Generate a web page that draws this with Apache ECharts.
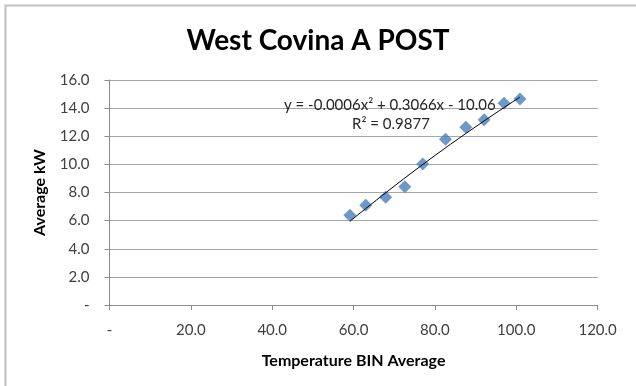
<!DOCTYPE html>
<html>
<head>
<meta charset="utf-8">
<script src="https://cdn.jsdelivr.net/npm/echarts@6/dist/echarts.min.js"></script>
<style>html,body{margin:0;padding:0;background:#fff;}#c{width:636px;height:386px;}</style>
</head>
<body>
<div id="c"></div>
<script>
var tempX = [59.1, 63.0, 67.9, 72.6, 77.0, 82.6, 87.6, 92.1, 97.0, 100.9];
var avgKW = [6.38, 7.09, 7.66, 8.41, 10.03, 11.78, 12.64, 13.18, 14.34, 14.65];
var trendX = [59.1, 80.0, 100.9];
var trendY = [5.95, 10.63, 14.78];
var titleText = 'West Covina A POST';
var xName = 'Temperature BIN Average';
var yName = 'Average kW';
var eqText = 'y = -0.0006x² + 0.3066x - 10.06';
var r2Text = 'R² = 0.9877';

var chart = echarts.init(document.getElementById('c'), null, {renderer: 'canvas'});
var FONT = 'Lato, "Open Sans", sans-serif';
var pts = tempX.map(function (x, i) { return [x, avgKW[i]]; });
var tpts = trendX.map(function (x, i) { return [x, trendY[i]]; });
chart.setOption({
  animation: false,
  backgroundColor: '#fff',
  title: {
    text: titleText, left: 'center', top: 22,
    textStyle: {fontFamily: FONT, fontWeight: 'bold', fontSize: 28, color: '#000'}
  },
  grid: {left: 109.5, right: 38.4, top: 80, bottom: 81},
  xAxis: {
    type: 'value', min: 0, max: 120, interval: 20,
    name: xName, nameLocation: 'middle', nameGap: 48,
    nameTextStyle: {fontFamily: FONT, fontWeight: 'bold', fontSize: 16, color: '#000'},
    axisLine: {show: true, onZero: false, lineStyle: {color: '#8c8c8c', width: 1}},
    axisTick: {show: true, length: 5, lineStyle: {color: '#8c8c8c'}},
    splitLine: {show: false},
    axisLabel: {
      fontFamily: FONT, fontSize: 15, color: '#404040', margin: 18,
      formatter: function (v) { return v === 0 ? '-' : v.toFixed(1); }
    }
  },
  yAxis: {
    type: 'value', min: 0, max: 16, interval: 2,
    name: yName, nameLocation: 'middle', nameGap: 62,
    nameTextStyle: {fontFamily: FONT, fontWeight: 'bold', fontSize: 16, color: '#000'},
    axisLine: {show: true, lineStyle: {color: '#8c8c8c', width: 1}},
    axisTick: {show: true, length: 5, lineStyle: {color: '#8c8c8c'}},
    splitLine: {show: true, lineStyle: {color: '#a6a6a6', width: 1}},
    axisLabel: {
      fontFamily: FONT, fontSize: 15, color: '#404040', margin: 20,
      formatter: function (v) { return v === 0 ? '-' : v.toFixed(1); }
    }
  },
  series: [
    {
      type: 'scatter', data: pts, symbol: 'diamond', symbolSize: 13,
      itemStyle: {color: '#4a7ebb'}, z: 3
    },
    {
      type: 'line', data: tpts, smooth: true, showSymbol: false, symbol: 'none',
      lineStyle: {color: '#000', width: 1}, z: 4
    }
  ],
  graphic: [
    {type: 'rect', shape: {x: 5.5, y: 5.5, width: 700, height: 500},
     style: {fill: 'none', stroke: '#bfbfbf', lineWidth: 2}, silent: true},
    {type: 'text', left: 284, top: 98,
     style: {text: eqText, fontFamily: FONT, fontSize: 15, fill: '#262626'}, z: 10},
    {type: 'text', left: 352, top: 117,
     style: {text: r2Text, fontFamily: FONT, fontSize: 15, fill: '#262626'}, z: 10}
  ]
});
</script>
</body>
</html>
